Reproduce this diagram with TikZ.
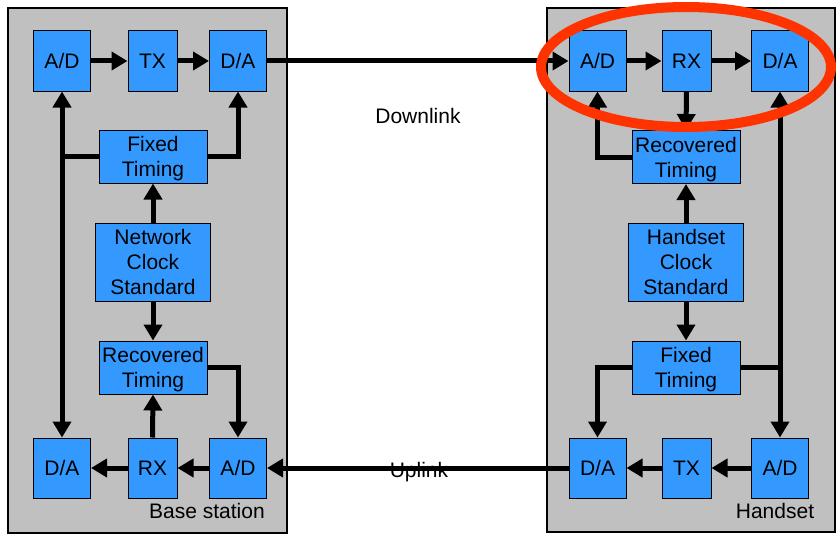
\documentclass[tikz,border=0pt]{standalone}
\usepackage{fontspec}
\setmainfont{Liberation Sans}
\usetikzlibrary{arrows.meta}
\definecolor{unitgray}{HTML}{C0C0C0}
\definecolor{blockblue}{HTML}{3399FF}
\definecolor{markred}{HTML}{FF3300}

\begin{document}
\begin{tikzpicture}[x=1pt, y=-1pt,
    every node/.style={font=\fontsize{21}{25}\selectfont},
    blk/.style={draw=black, line width=1pt, fill=blockblue, inner sep=0pt, minimum height=60pt, align=center},
    conv/.style={blk, minimum width=57pt},
    radio/.style={blk, minimum width=49pt},
    timing/.style={blk, minimum width=108pt, minimum height=53pt, text height=45pt, text depth=4.5pt},
    clock/.style={blk, minimum width=115pt, minimum height=78pt},
    flow/.style={line width=5pt, -{Triangle[length=16pt,width=18pt]}}]
    \useasboundingbox (0,0) rectangle (838,535);

    % units
    \fill[unitgray, draw=black, line width=2pt] (8,8) rectangle (287,533);
    \fill[unitgray, draw=black, line width=2pt] (547,8) rectangle (835,532);

    % base station
    \node[conv] (bsADt) at (62,61) {A/D};
    \node[radio] (bsTX) at (152.5,61) {TX};
    \node[conv] (bsDAt) at (238,61) {D/A};
    \node[timing] (bsFixed) at (153,156.5) {Fixed\\Timing};
    \node[clock] (bsClock) at (153,262) {Network\\Clock\\Standard};
    \node[timing] (bsRec) at (153,367.5) {Recovered\\Timing};
    \node[conv] (bsDAb) at (62,468) {D/A};
    \node[radio] (bsRX) at (152.5,468) {RX};
    \node[conv] (bsADb) at (238,468) {A/D};
    \node (bsName) at (207,511) {Base station};

    \draw[flow] (bsADt) -- (bsTX);
    \draw[flow] (bsTX) -- (bsDAt);
    \draw[flow] (bsFixed.west) -| (bsADt.south);
    \draw[flow] (bsFixed.west) -| (bsDAb.north);
    \draw[flow] (bsFixed.east) -| (bsDAt.south);
    \draw[flow] (bsClock.north) -- (bsFixed.south);
    \draw[flow] (bsClock.south) -- (bsRec.north);
    \draw[flow] (bsRX.north) -- (bsRec.south);
    \draw[flow] (bsRec.east) -| (bsADb.north);
    \draw[flow] (bsADb) -- (bsRX);
    \draw[flow] (bsRX) -- (bsDAb);

    % handset
    \node[conv] (hsADt) at (597.5,61) {A/D};
    \node[radio] (hsRX) at (686.5,61) {RX};
    \node[conv] (hsDAt) at (780,61) {D/A};
    \node[timing] (hsRec) at (686,157) {Recovered\\Timing};
    \node[clock] (hsClock) at (686,262) {Handset\\Clock\\Standard};
    \node[timing] (hsFixed) at (686,367.5) {Fixed\\Timing};
    \node[conv] (hsDAb) at (597.5,468) {D/A};
    \node[radio] (hsTX) at (686.5,468) {TX};
    \node[conv] (hsADb) at (780,468) {A/D};
    \node (hsName) at (775,511) {Handset};

    \draw[flow] (hsADt) -- (hsRX);
    \draw[flow] (hsRX) -- (hsDAt);
    \draw[flow] (hsRX.south) -- (hsRec.north);
    \draw[flow] (hsRec.west) -| (hsADt.south);
    \draw[flow] (hsClock.north) -- (hsRec.south);
    \draw[flow] (hsClock.south) -- (hsFixed.north);
    \draw[flow] (hsFixed.east) -| (hsDAt.south);
    \draw[flow] (hsFixed.east) -| (hsADb.north);
    \draw[flow] (hsFixed.west) -| (hsDAb.north);
    \draw[flow] (hsADb) -- (hsTX);
    \draw[flow] (hsTX) -- (hsDAb);

    % radio links
    \node (downLabel) at (418,116) {Downlink};
    \node (upLabel) at (419,472) {Uplink};
    \draw[flow] (bsDAt) -- (hsADt);
    \draw[flow] (hsDAb) -- (bsADb);

    \draw[markred, line width=10pt] (686,67) ellipse [x radius=145, y radius=60];
\end{tikzpicture}
\end{document}
